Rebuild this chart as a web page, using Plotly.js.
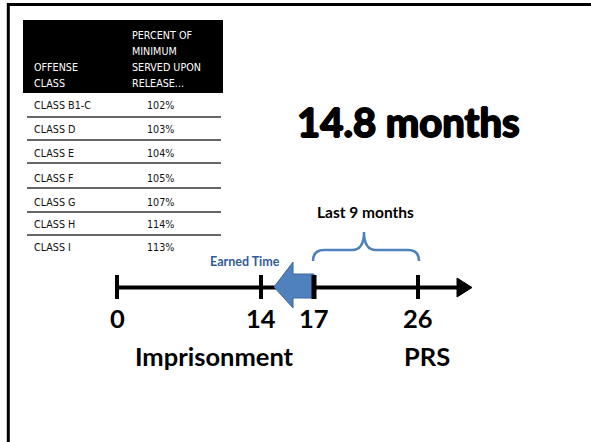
<!DOCTYPE html>
<html><head><meta charset="utf-8">
<script src="https://cdn.plot.ly/plotly-3.0.1.min.js"></script>
<style>html,body{margin:0;padding:0;background:#fff}#chart{width:591px;height:442px}</style>
</head><body><div id="chart"></div>
<script>
// ---- data ----
const offenseClasses = ["CLASS B1-C","CLASS D","CLASS E","CLASS F","CLASS G","CLASS H","CLASS I"];
const percentServed = ["102%","103%","104%","105%","107%","114%","113%"];
const headerCol1 = ["OFFENSE","CLASS"];
const headerCol2 = ["PERCENT OF","MINIMUM","SERVED UPON","RELEASE..."];
const timelineMonths = [0,14,17,26];
const headline = "14.8 months";
const lastPeriodLabel = "Last 9 months";
const earnedLabel = "Earned Time";
const phaseLabels = ["Imprisonment","PRS"];

// ---- layout positions (pixels) ----
const tickPx = [117,261,314,418];
const rowY = [105,129,153,178,202,224,247];
const sepY = [117,140,163,188,212,235];
const hdr1Y = [67,83], hdr2Y = [35,51,67,83];
const lineY = 287.5;

const tableFont = {family:"DejaVu Sans, sans-serif", size:9.6, color:"#111"};
const hdrFont = {family:"DejaVu Sans, sans-serif", size:9.6, color:"#fff"};
const ann = [];
const shapes = [];

// slide border (top & left)
shapes.push({type:"line",x0:7,x1:591,y0:4.5,y1:4.5,line:{color:"#000",width:3}});
shapes.push({type:"line",x0:8.3,x1:8.3,y0:3,y1:442,line:{color:"#000",width:3}});

// table header
shapes.push({type:"rect",x0:23,x1:223,y0:20,y1:93,fillcolor:"#000",line:{width:0}});
headerCol1.forEach((t,i)=>ann.push({x:32,y:hdr1Y[i],text:t,xanchor:"left",yanchor:"middle",showarrow:false,font:hdrFont}));
headerCol2.forEach((t,i)=>ann.push({x:130,y:hdr2Y[i],text:t,xanchor:"left",yanchor:"middle",showarrow:false,font:hdrFont}));
// table rows
offenseClasses.forEach((c,i)=>{
  ann.push({x:32,y:rowY[i],text:c,xanchor:"left",yanchor:"middle",showarrow:false,font:tableFont});
  ann.push({x:160,y:rowY[i],text:percentServed[i],xanchor:"center",yanchor:"middle",showarrow:false,font:tableFont});
});
sepY.forEach(y=>shapes.push({type:"line",x0:27,x1:221,y0:y,y1:y,line:{color:"#666",width:1.8}}));

// headline
ann.push({x:408,y:122,text:"<b>"+headline+"</b>",xanchor:"center",yanchor:"middle",showarrow:false,
  font:{family:"Lato, sans-serif",size:40,color:"#000",shadow:"1px 0 0 #000, -1px 0 0 #000, 0 1px 0 #000, 0 -1px 0 #000"}});

// timeline main line + arrowhead
shapes.push({type:"line",x0:115,x1:460,y0:lineY,y1:lineY,line:{color:"#000",width:4}});
shapes.push({type:"path",path:`M 457 278 L 472 ${lineY} L 457 297 Z`,fillcolor:"#000",line:{color:"#000",width:1}});
// earned time blue arrow
shapes.push({type:"path",path:"M 274 287 L 293 262 L 293 274 L 314 274 L 314 298 L 293 298 L 293 308 Z",
  fillcolor:"#4F81BD",line:{color:"#3A66A0",width:1}});
// ticks
tickPx.forEach((x,i)=>shapes.push({type:"line",x0:x,x1:x,y0:275,y1:299,line:{color:"#000",width:i===2?5:4}}));
// brace over last 9 months
shapes.push({type:"path",path:"M 313 261 Q 313 250 324 250 L 352 250 Q 364 250 364 232 Q 364 250 376 250 L 408 250 Q 419 250 419 261",
  line:{color:"#4F81BD",width:2.5}});

// labels
const bigFont = {family:"Lato, sans-serif",size:25.5,color:"#000"};
timelineMonths.forEach((m,i)=>ann.push({x:tickPx[i],y:318,text:"<b>"+m+"</b>",xanchor:"center",yanchor:"middle",showarrow:false,font:bigFont}));
ann.push({x:214,y:356,text:"<b>"+phaseLabels[0]+"</b>",xanchor:"center",yanchor:"middle",showarrow:false,font:bigFont});
ann.push({x:427,y:356,text:"<b>"+phaseLabels[1]+"</b>",xanchor:"center",yanchor:"middle",showarrow:false,font:bigFont});
ann.push({x:365,y:212,text:"<b>"+lastPeriodLabel+"</b>",xanchor:"center",yanchor:"middle",showarrow:false,font:{family:"Lato, sans-serif",size:15.5,color:"#000"}});
ann.push({x:245,y:261,text:"<b>"+earnedLabel+"</b>",xanchor:"center",yanchor:"middle",showarrow:false,font:{family:"Lato, sans-serif",size:12.5,color:"#2F5C9A"}});

const layout = {
  width:591,height:442,margin:{l:0,r:0,t:0,b:0},
  paper_bgcolor:"#fff",plot_bgcolor:"#fff",showlegend:false,
  xaxis:{range:[0,591],visible:false,fixedrange:true},
  yaxis:{range:[442,0],visible:false,fixedrange:true},
  shapes:shapes,annotations:ann
};
Plotly.newPlot("chart",[{x:[],y:[],type:"scatter",mode:"lines",hoverinfo:"skip"}],layout,{displayModeBar:false,staticPlot:true});
</script></body></html>
